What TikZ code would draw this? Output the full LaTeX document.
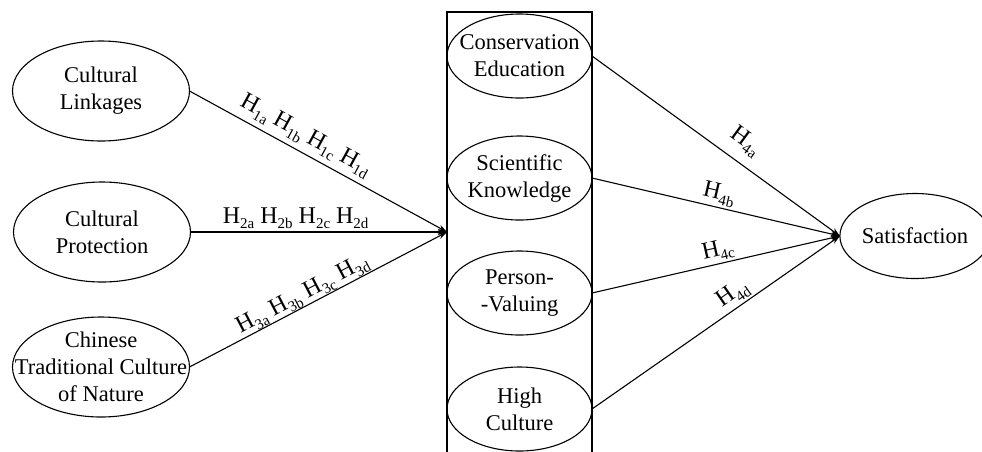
\documentclass[tikz,border=0pt]{standalone}
\usepackage{fontspec}
\setmainfont{Liberation Serif}
\usetikzlibrary{shapes.geometric,arrows.meta}
\newcommand{\hsb}[1]{\raisebox{-0.22em}{\fontsize{15}{15}\selectfont #1}}
\newcommand{\hh}[1]{H\hsb{#1}}
\begin{document}
\begin{tikzpicture}[x=1pt,y=-1pt,
  every node/.style={font=\fontsize{22.5}{27}\selectfont},
  bigoval/.style={ellipse, draw, line width=1.1pt, minimum width=177pt, minimum height=100pt, inner sep=0pt, outer sep=0pt},
  midoval/.style={ellipse, draw, line width=1.1pt, minimum width=145pt, minimum height=84pt, inner sep=0pt, outer sep=0pt},
  inner/.style={align=center, inner sep=0pt},
  conn/.style={line width=1.1pt, -{Stealth[length=9pt,width=6pt]}},
  hlab/.style={font=\fontsize{24}{28}\selectfont, inner sep=2pt}]
\useasboundingbox (0,0) rectangle (982,451);
% box
\node[draw, line width=1.1pt, minimum width=145pt, minimum height=470pt, anchor=north west, inner sep=0pt, outer sep=0pt] (box) at (447,12) {};
% left ovals
\node[bigoval, label={[inner]center:Cultural\\Linkages}] (cl) at (101,91) {};
\node[bigoval, label={[inner]center:Cultural\\Protection}] (cp) at (102,232) {};
\node[bigoval, label={[inner]center:Chinese\\Traditional Culture\\of Nature}] (ct) at (101,367) {};
% middle ovals
\node[midoval, label={[inner]center:Conservation\\Education}] (ce) at (519.5,56) {};
\node[midoval, label={[inner]center:Scientific\\Knowledge}] (sk) at (519.5,178) {};
\node[midoval, label={[inner]center:Person-\\-Valuing}] (pv) at (519.5,293) {};
\node[midoval, label={[inner]center:High\\Culture}] (hc) at (519.5,409) {};
% satisfaction
\node[ellipse, draw, line width=1.1pt, minimum width=131pt, minimum height=85pt, inner sep=0pt, outer sep=0pt] (sat) at (915,236) {Satisfaction};
\coordinate (conv) at (447,232);
% connectors left
\draw[conn] (cl.east) -- node[hlab, pos=0.42, sloped, above=3pt] {\hh{1a} \hh{1b} \hh{1c} \hh{1d}} (conv);
\draw[conn] (cp.east) -- node[hlab, pos=0.41, above=1pt] {\hh{2a} \hh{2b} \hh{2c} \hh{2d}} (conv);
\draw[conn] (ct.east) -- node[hlab, pos=0.46, sloped, above=-2pt] {\hh{3a} \hh{3b} \hh{3c} \hh{3d}} (conv);
% connectors right
\draw[conn] (ce.east) -- node[hlab, pos=0.57, sloped, above=8pt] {\hh{4a}} (sat.west);
\draw[conn] (sk.east) -- node[hlab, pos=0.5, sloped, above=0pt] {\hh{4b}} (sat.west);
\draw[conn] (pv.east) -- node[hlab, pos=0.52, sloped, above=0pt] {\hh{4c}} (sat.west);
\draw[conn] (hc.east) -- node[hlab, pos=0.6, sloped, above=0pt] {\hh{4d}} (sat.west);
\end{tikzpicture}
\end{document}
